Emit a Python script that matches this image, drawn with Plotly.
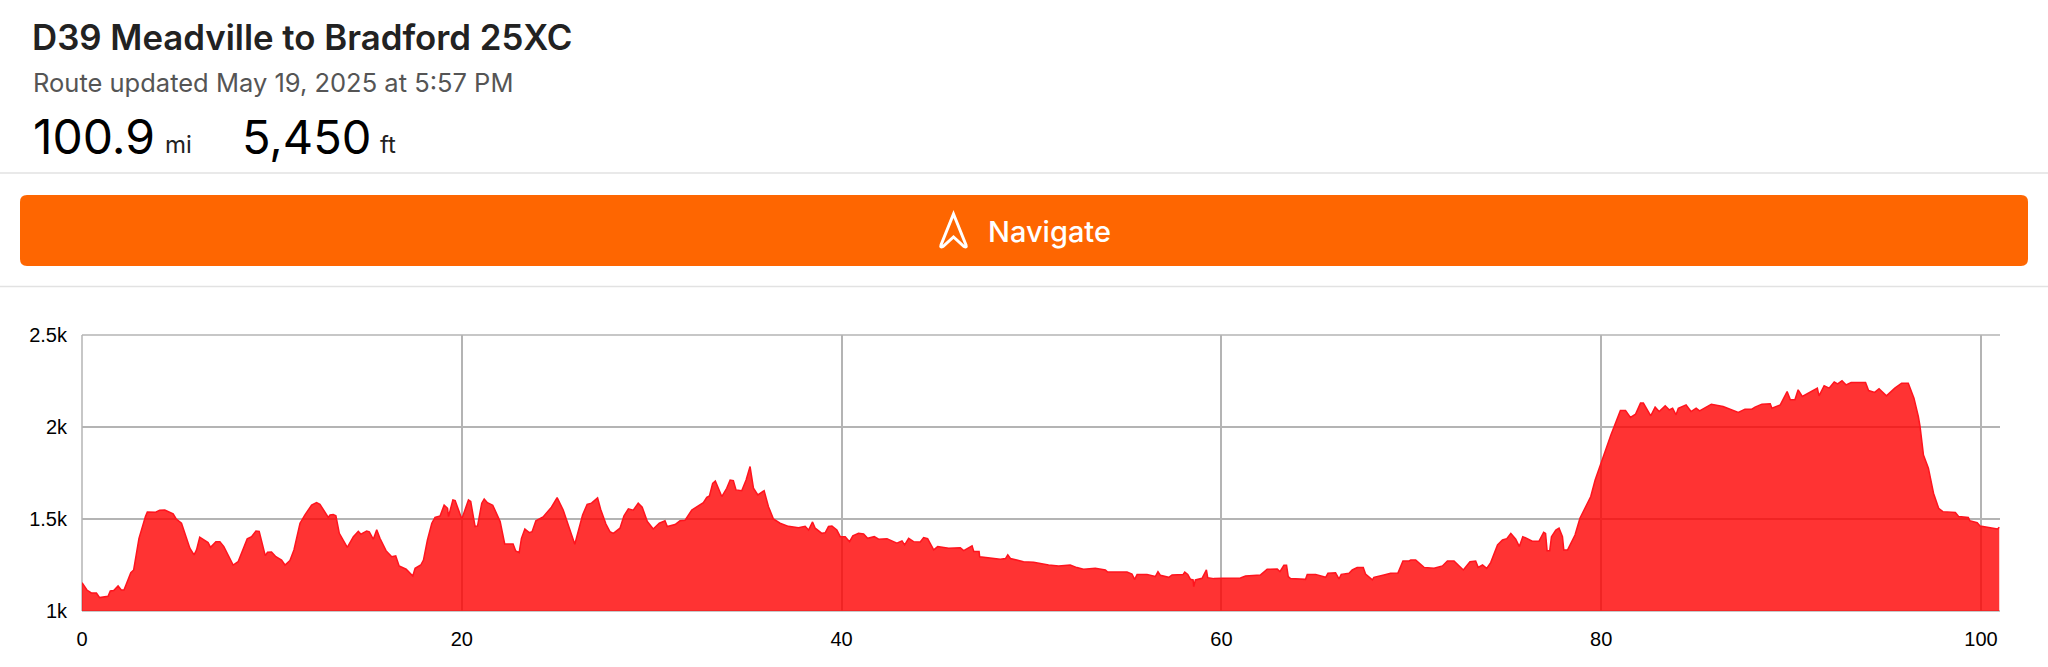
import plotly.graph_objects as go

miles = [0, .26, .49, .76, .93, 1.37, 1.49, 1.67, 1.9, 2.07, 2.21, 2.57, 2.72, 3.0, 3.34, 3.44, 3.88, 4.09, 4.36, 4.8,
         4.97, 5.24, 5.68, 5.9, 6.03, 6.2, 6.64, 6.77, 7.05, 7.26, 7.47, 7.96, 8.22, 8.4, 8.7, 8.93, 9.16, 9.33, 9.54, 9.65,
         9.77, 9.98, 10.21, 10.51, 10.69, 10.95, 11.16, 11.48, 11.74, 12.09, 12.35, 12.53, 12.97, 13.06, 13.23, 13.37, 13.55, 13.97, 14.29, 14.55,
         14.69, 14.99, 15.13, 15.34, 15.52, 15.69, 16.01, 16.31, 16.52, 16.7, 17.07, 17.42, 17.54, 17.84, 17.98, 18.19, 18.42, 18.59, 18.86, 19.07,
         19.25, 19.3, 19.53, 19.65, 20.0, 20.35, 20.47, 20.7, 20.83, 21.05, 21.18, 21.35, 21.63, 22.02, 22.26, 22.7, 22.84, 23.02, 23.14, 23.32,
         23.55, 23.7, 23.9, 24.28, 24.72, 25.02, 25.34, 25.95, 26.36, 26.6, 26.83, 27.15, 27.31, 27.59, 27.8, 27.98, 28.33, 28.54, 28.77, 29.03,
         29.29, 29.5, 29.77, 30.08, 30.4, 30.7, 30.82, 31.23, 31.49, 31.75, 32.11, 32.72, 32.9, 33.04, 33.21, 33.35, 33.51, 33.69, 33.95, 34.13,
         34.3, 34.44, 34.74, 34.97, 35.18, 35.36, 35.59, 35.92, 36.15, 36.41, 36.76, 37.2, 37.73, 38.08, 38.26, 38.47, 38.61, 38.96, 39.14, 39.31,
         39.49, 39.75, 39.93, 40.19, 40.42, 40.59, 40.89, 41.16, 41.37, 41.72, 41.95, 42.39, 42.91, 43.18, 43.32, 43.53, 43.79, 44.14, 44.32, 44.53,
         44.85, 45.06, 45.64, 46.25, 46.43, 46.87, 46.96, 47.24, 47.27, 48.36, 48.63, 48.75, 48.89, 49.58, 50.11, 50.9, 51.43, 52.04, 52.39, 52.74,
         53.36, 53.89, 54.01, 55.03, 55.29, 55.43, 55.56, 56.08, 56.52, 56.66, 56.79, 57.23, 57.4, 57.98, 58.07, 58.23, 58.37, 58.51, 58.54, 58.63,
         58.98, 59.21, 59.28, 59.6, 60.04, 61.0, 61.27, 62.06, 62.41, 62.94, 63.08, 63.29, 63.43, 63.52, 63.64, 64.25, 64.43, 64.52, 64.96, 65.49,
         65.61, 66.01, 66.19, 66.31, 66.72, 66.89, 67.15, 67.47, 67.59, 67.95, 68.03, 68.56, 68.91, 69.3, 69.56, 69.88, 69.97, 70.23, 70.41, 70.67,
         71.2, 71.37, 71.64, 71.9, 72.25, 72.74, 73.09, 73.39, 73.52, 73.75, 73.97, 74.18, 74.54, 74.8, 75.03, 75.24, 75.5, 75.69, 75.87, 76.08,
         76.37, 76.72, 76.97, 77.07, 77.15, 77.29, 77.38, 77.61, 77.78, 77.96, 78.03, 78.23, 78.62, 78.88, 79.45, 79.68, 79.95, 80.27, 80.51, 81.01,
         81.28, 81.54, 81.81, 82.07, 82.22, 82.61, 82.84, 83.05, 83.37, 83.58, 83.76, 83.94, 84.06, 84.47, 84.73, 85.0, 85.18, 85.8, 86.42, 87.22,
         87.57, 87.93, 88.1, 88.46, 88.9, 88.99, 89.43, 89.79, 89.96, 90.2, 90.37, 90.59, 90.94, 91.38, 91.47, 91.74, 92.0, 92.27, 92.45, 92.68,
         92.89, 93.16, 93.42, 93.92, 94.08, 94.4, 94.63, 95.02, 95.46, 95.73, 95.82, 96.17, 96.47, 96.7, 96.79, 96.97, 97.23, 97.5, 97.77, 97.99,
         98.65, 98.83, 99.33, 99.41, 99.8, 99.95, 100.87, 100.96]

elevation = [1154, 1114, 1098, 1098, 1073, 1080, 1109, 1111, 1136, 1114, 1114, 1208, 1223, 1395, 1513, 1538, 1537, 1548, 1549, 1528,
             1499, 1477, 1341, 1305, 1332, 1401, 1372, 1346, 1377, 1377, 1350, 1250, 1268, 1314, 1392, 1404, 1435, 1433, 1350, 1301,
             1319, 1321, 1295, 1277, 1250, 1274, 1332, 1477, 1522, 1576, 1589, 1580, 1509, 1522, 1524, 1517, 1422, 1346, 1404, 1433,
             1417, 1435, 1430, 1390, 1441, 1395, 1328, 1295, 1299, 1245, 1227, 1190, 1232, 1250, 1277, 1386, 1477, 1509, 1517, 1576,
             1558, 1513, 1604, 1600, 1500, 1604, 1595, 1459, 1462, 1586, 1609, 1589, 1575, 1486, 1364, 1364, 1326, 1317, 1395, 1446,
             1426, 1431, 1490, 1511, 1564, 1616, 1549, 1363, 1522, 1580, 1586, 1615, 1553, 1473, 1431, 1422, 1450, 1517, 1555, 1548,
             1586, 1564, 1486, 1446, 1477, 1490, 1459, 1470, 1490, 1493, 1549, 1589, 1618, 1625, 1694, 1707, 1667, 1622, 1667, 1712,
             1709, 1658, 1654, 1712, 1785, 1667, 1631, 1654, 1567, 1500, 1477, 1460, 1453, 1460, 1440, 1484, 1450, 1422, 1426, 1459,
             1462, 1440, 1404, 1404, 1377, 1408, 1422, 1419, 1395, 1404, 1390, 1393, 1368, 1381, 1359, 1395, 1377, 1375, 1399, 1393,
             1332, 1350, 1341, 1344, 1328, 1354, 1323, 1323, 1295, 1281, 1285, 1305, 1285, 1268, 1265, 1250, 1245, 1250, 1236, 1227,
             1232, 1223, 1212, 1212, 1201, 1172, 1198, 1199, 1187, 1214, 1194, 1183, 1196, 1198, 1212, 1199, 1172, 1169, 1132, 1169,
             1178, 1223, 1181, 1176, 1178, 1179, 1190, 1196, 1227, 1228, 1214, 1248, 1248, 1187, 1176, 1172, 1172, 1199, 1199, 1183,
             1205, 1208, 1174, 1199, 1205, 1223, 1236, 1236, 1201, 1169, 1183, 1196, 1205, 1207, 1272, 1272, 1277, 1277, 1259, 1237,
             1232, 1237, 1245, 1272, 1272, 1223, 1268, 1272, 1237, 1250, 1232, 1263, 1359, 1386, 1393, 1422, 1390, 1350, 1404, 1395,
             1379, 1379, 1428, 1422, 1328, 1328, 1404, 1440, 1450, 1404, 1332, 1332, 1413, 1504, 1622, 1712, 1794, 1885, 1957, 2090,
             2090, 2052, 2070, 2130, 2130, 2061, 2108, 2084, 2115, 2093, 2102, 2066, 2102, 2120, 2084, 2102, 2088, 2124, 2111, 2079,
             2097, 2097, 2108, 2124, 2126, 2102, 2120, 2193, 2148, 2148, 2202, 2166, 2187, 2211, 2169, 2224, 2211, 2245, 2234, 2251,
             2229, 2242, 2242, 2242, 2198, 2188, 2208, 2169, 2211, 2229, 2238, 2238, 2157, 2057, 2003, 1848, 1776, 1640, 1558, 1540,
             1535, 1513, 1508, 1491, 1480, 1462, 1446, 1455]

x_ticks = [0, 20, 40, 60, 80, 100]
y_ticks = [1000, 1500, 2000, 2500]
y_labels = ["1k", "1.5k", "2k", "2.5k"]

W, H = 2048, 667
L, R, T, B = 82, 48, 335, 56
GRID = "#b4b4b4"


def px(x):
    return (x - L) / (W - L - R)


def py(y):
    return 1 - (y - T) / (H - T - B)


def label(x, y, text, size, color, weight=400):
    return dict(x=px(x), y=py(y), xref="paper", yref="paper", text=text, showarrow=False,
                xanchor="left", yanchor="middle", borderpad=0,
                font=dict(family="Inter", size=size, color=color, weight=weight))


def rule(y):
    return dict(type="line", xref="paper", yref="paper", x0=px(0), x1=px(W), y0=py(y), y1=py(y),
                line=dict(color="#e2e2e2", width=1.5))


# plot frame sits on the range ends, under the fill like the grid
def frame(x0, y0, x1, y1):
    return dict(type="line", xref="paper", yref="paper", x0=x0, y0=y0, x1=x1, y1=y1, layer="below",
                line=dict(color=GRID, width=1.5))


def round_rect(x0, y0, x1, y1, r):
    return (f"M {px(x0 + r)} {py(y0)} L {px(x1 - r)} {py(y0)} Q {px(x1)} {py(y0)} {px(x1)} {py(y0 + r)} "
            f"L {px(x1)} {py(y1 - r)} Q {px(x1)} {py(y1)} {px(x1 - r)} {py(y1)} "
            f"L {px(x0 + r)} {py(y1)} Q {px(x0)} {py(y1)} {px(x0)} {py(y1 - r)} "
            f"L {px(x0)} {py(y0 + r)} Q {px(x0)} {py(y0)} {px(x0 + r)} {py(y0)} Z")


arrow = (f"M {px(953.5)} {py(214)} L {px(966)} {py(245)} Q {px(967)} {py(248)} {px(964)} {py(246.5)} "
         f"L {px(953.5)} {py(237)} L {px(943)} {py(246.5)} Q {px(940)} {py(248)} {px(941)} {py(245)} Z")

fig = go.Figure(go.Scatter(x=miles, y=elevation, mode="lines", fill="tozeroy",
                           line=dict(color="rgb(255,20,30)", width=1.5), fillcolor="rgba(255,0,0,0.8)"))

fig.update_xaxes(range=[0, 101.0], tickvals=x_ticks, showgrid=True, gridcolor=GRID, gridwidth=1.5,
                 zeroline=False, ticks="outside", ticklen=10, tickcolor="white",
                 tickfont=dict(family="Liberation Sans", size=20, color="black"))
fig.update_yaxes(range=[1000, 2500], tickvals=y_ticks, ticktext=y_labels, showgrid=True, gridcolor=GRID, gridwidth=1.5,
                 zeroline=False, ticks="outside", ticklen=10, tickcolor="white",
                 tickfont=dict(family="Liberation Sans", size=20, color="black"))

fig.update_layout(
    width=W, height=H, margin=dict(l=L, r=R, t=T, b=B), paper_bgcolor="white", plot_bgcolor="white", showlegend=False,
    shapes=[rule(173), rule(286.5),
            frame(0, 0, 1, 0), frame(0, 1, 1, 1), frame(0, 0, 0, 1),
            dict(type="path", xref="paper", yref="paper", path=round_rect(20, 195, 2028, 266, 7),
                 fillcolor="#fe6601", line=dict(width=0)),
            dict(type="path", xref="paper", yref="paper", path=arrow, line=dict(color="white", width=3))],
    annotations=[label(31, 37, "D39 Meadville to Bradford 25XC", 34.8, "#222222", 600),
                 label(32, 83, "Route updated May 19, 2025 at 5:57 PM", 25.5, "#555555"),
                 label(32, 137, "100.9", 48, "black"),
                 label(164, 144, "mi", 24, "#222222"),
                 label(241, 137, "5,450", 47, "black"),
                 label(379, 144, "ft", 24, "#222222"),
                 label(987, 231, "Navigate", 29, "white", 500)],
)

fig.write_html("out.html", config=dict(displayModeBar=False), post_script="document.body.style.margin='0'")
